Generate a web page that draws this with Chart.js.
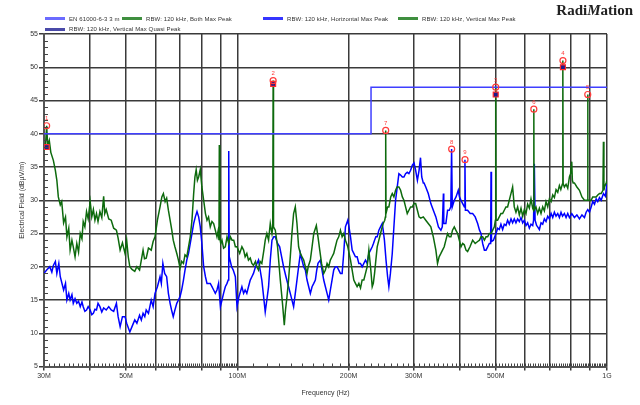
<!DOCTYPE html>
<html lang="en">
<head>
    <title>Radiated Emission Scan</title>
    <script src="https://cdn.jsdelivr.net/npm/chart.js"></script>
    <style>
        body {
            margin: 0;
            background-color: white;
            font-family: Arial, "Liberation Sans", sans-serif;
        }

        #wrap {
            position: relative;
            width: 640px;
            height: 405px;
        }

        #brand {
            position: absolute;
            right: 7px;
            top: 2px;
            font-family: "Liberation Serif", "DejaVu Serif", serif;
            font-size: 15px;
            font-weight: bold;
            color: #222;
        }

        #legend {
            position: absolute;
            left: 45px;
            top: 13px;
            width: 560px;
            font-size: 6px;
            letter-spacing: 0.1px;
            color: #333;
            line-height: 10px;
        }

        .item {
            display: inline-flex;
            align-items: center;
            white-space: nowrap;
        }

        .item:nth-child(1) { width: 77px; }
        .item:nth-child(2) { width: 141px; }
        .item:nth-child(3) { width: 135px; }

        .swatch {
            display: inline-block;
            width: 20px;
            height: 3px;
            margin-right: 4px;
        }
    </style>
</head>
<body>

    <div id="wrap">
        <canvas id="scanChart"></canvas>
        <div id="brand">Radi<i>M</i>ation</div>
        <div id="legend"></div>
    </div>

    <script>
        // tick labels of the frequency axis (MHz)
        const xTickValues = [30, 40, 50, 60, 70, 80, 90, 100, 200, 300, 400, 500, 600, 700, 800, 900, 1000];
        const xTickLabels = ['30M', '', '50M', '', '', '', '', '100M', '200M', '300M', '', '500M', '', '', '', '', '1G'];

        // EN 61000-6-3 3 m limit
        const limitFreq = [30, 230, 230, 1000];
        const limitLevel = [40, 40, 47, 47];

        // vertical max peak trace (MHz / dBuV/m)
        const vertFreq = [30.0, 30.3, 30.5, 30.7, 31.0, 31.3, 31.8, 32.2, 32.5, 32.8, 33.2, 33.5, 33.9, 34.3, 34.6, 35.0, 35.3, 35.7, 36.0, 36.4,
            36.8, 37.2, 37.6, 38.0, 38.3, 38.7, 39.1, 39.5, 40.0, 40.4, 40.8, 41.2, 41.6, 42.0, 42.5, 43.0, 43.5, 43.8, 44.2, 44.9,
            45.6, 46.3, 47.1, 47.6, 48.2, 48.9, 49.7, 50.2, 50.7, 51.2, 51.9, 52.8, 53.5, 54.4, 55.0, 55.6, 56.1, 56.7, 57.5, 58.5,
            59.2, 59.9, 60.8, 61.8, 62.5, 63.1, 63.8, 64.4, 65.1, 65.8, 66.5, 67.1, 67.8, 68.6, 69.3, 70.0, 70.7, 71.5, 72.2, 73.0,
            73.8, 74.6, 75.4, 76.2, 76.8, 77.4, 78.0, 78.6, 79.4, 80.2, 81.1, 82.0, 82.8, 83.6, 84.5, 85.4, 86.3, 87.2, 88.1, 88.8,
            89.2, 89.4, 89.6, 90.2, 90.9, 91.8, 92.8, 93.8, 94.8, 95.8, 96.8, 97.8, 98.8, 99.8, 101.5, 102.9, 104.0, 105.0, 106.1, 107.2,
            108.4, 109.5, 110.6, 112.0, 112.9, 114.1, 115.3, 116.5, 118.0, 119.0, 120.2, 121.5, 122.8, 124.1, 124.7, 125.0, 125.3, 126.7, 128.5, 130.7,
            132.5, 134.0, 135.0, 136.2, 137.6, 139.1, 140.5, 142.0, 143.5, 145.0, 146.5, 148.1, 149.6, 151.2, 152.8, 154.4, 155.5, 157.6, 159.3, 161.0,
            163.6, 165.3, 167.1, 169.0, 171.3, 173.1, 174.9, 176.7, 178.5, 180.4, 182.3, 184.2, 186.1, 188.1, 190.1, 192.1, 194.1, 196.1, 199.0, 202.4,
            204.5, 206.6, 208.7, 210.9, 213.2, 215.4, 217.6, 219.9, 222.2, 224.5, 226.9, 229.3, 231.7, 233.3, 235.1, 237.0, 239.0, 241.5, 244.0, 246.6,
            248.1, 250.5, 251.5, 252.0, 252.5, 255.0, 257.0, 260.0, 262.5, 265.2, 268.0, 270.5, 273.6, 276.5, 279.5, 282.3, 285.2, 288.2, 291.2, 294.3,
            297.5, 300.6, 303.7, 307.0, 310.2, 313.5, 318.5, 323.4, 328.5, 333.8, 339.0, 344.4, 348.0, 351.5, 355.4, 359.0, 362.8, 366.6, 370.5, 374.4,
            378.3, 382.0, 386.3, 390.0, 394.4, 398.5, 402.7, 407.0, 411.1, 415.5, 419.7, 426.0, 433.1, 440.0, 446.8, 452.0, 456.2, 461.0, 466.0, 470.7,
            475.6, 480.5, 485.6, 490.7, 495.8, 499.0, 500.0, 501.0, 505.9, 511.2, 516.5, 522.0, 527.4, 532.9, 538.4, 544.1, 549.8, 555.5, 558.5, 561.3,
            567.2, 573.2, 579.2, 585.3, 591.5, 597.5, 603.8, 610.0, 616.5, 622.9, 629.5, 633.0, 634.0, 635.0, 642.5, 649.3, 656.3, 663.0, 670.0, 677.0,
            684.0, 691.3, 698.5, 706.0, 713.2, 720.6, 728.0, 735.8, 743.4, 750.0, 757.0, 759.0, 760.0, 761.0, 766.9, 775.0, 783.1, 791.3, 797.0, 802.9,
            806.0, 810.0, 816.3, 829.0, 842.3, 855.5, 869.0, 880.0, 886.0, 887.0, 888.0, 896.6, 906.0, 915.0, 925.0, 934.7, 944.0, 954.3, 964.4, 975.0,
            978.0, 981.0, 984.6, 994.9, 1000];
        const vertLevel = [37.5, 38.5, 41.2, 38.2, 39.0, 37.2, 36.0, 34.5, 33.0, 30.5, 29.3, 29.8, 26.6, 27.5, 24.5, 25.8, 22.5, 24.0, 23.0, 21.5,
            23.5, 22.2, 25.0, 24.2, 26.8, 26.0, 28.3, 27.2, 29.8, 27.5, 28.6, 27.0, 28.0, 26.8, 28.3, 27.4, 30.6, 28.0, 28.6, 27.2,
            27.0, 25.8, 25.5, 24.3, 22.5, 23.6, 22.0, 24.0, 21.5, 20.0, 19.6, 19.3, 20.0, 19.5, 21.0, 22.5, 21.2, 21.3, 22.8, 22.5,
            23.8, 24.5, 27.0, 29.0, 30.5, 31.0, 29.8, 30.3, 28.5, 27.0, 25.5, 24.0, 23.0, 22.0, 21.0, 19.8, 20.8, 20.5, 21.8, 21.5,
            23.0, 24.5, 27.0, 31.0, 33.5, 34.6, 33.0, 33.5, 34.6, 32.0, 30.0, 28.0, 27.0, 27.5, 26.0, 26.8, 26.5, 25.5, 24.5, 25.5,
            24.0, 38.3, 24.5, 23.5, 24.0, 22.8, 23.0, 24.5, 23.5, 24.5, 24.0, 24.0, 23.0, 23.0, 22.0, 23.0, 22.5, 21.5, 22.0, 21.0,
            21.3, 20.5, 20.2, 20.8, 20.0, 19.5, 20.8, 20.5, 22.5, 24.0, 25.0, 24.0, 26.5, 25.0, 26.0, 48.0, 26.0, 25.5, 23.0, 18.0,
            14.5, 11.2, 13.5, 15.4, 18.0, 21.5, 25.0, 28.0, 29.0, 26.5, 23.0, 22.0, 21.5, 21.0, 20.0, 19.0, 20.0, 21.0, 23.0, 25.0,
            26.2, 24.5, 22.5, 20.5, 19.0, 19.5, 20.5, 20.0, 21.0, 21.5, 22.0, 23.0, 24.0, 24.5, 25.5, 24.5, 25.0, 24.0, 23.0, 21.0,
            19.5, 18.0, 17.5, 17.0, 17.5, 16.8, 18.0, 18.0, 19.0, 20.0, 22.5, 20.0, 17.0, 17.5, 19.0, 21.0, 23.0, 24.0, 25.0, 26.0,
            26.5, 27.0, 27.5, 40.5, 28.0, 29.0, 29.0, 30.5, 31.0, 30.5, 31.5, 32.0, 32.0, 31.5, 30.5, 30.0, 29.0, 28.0, 28.5, 29.0,
            29.0, 29.5, 29.5, 28.5, 27.5, 27.3, 27.5, 27.0, 26.5, 26.0, 24.5, 22.5, 20.5, 21.5, 22.0, 22.5, 23.0, 24.0, 25.0, 24.5,
            24.5, 25.5, 26.0, 25.5, 25.0, 24.0, 23.0, 23.5, 23.3, 22.5, 22.3, 23.0, 24.0, 23.5, 23.8, 24.0, 24.5, 24.5, 24.0, 24.5,
            24.5, 25.0, 25.0, 25.5, 26.0, 27.0, 47.0, 27.0, 27.0, 27.5, 28.0, 28.0, 28.5, 29.0, 29.0, 30.0, 31.0, 32.0, 30.5, 29.0,
            28.2, 29.0, 27.8, 28.8, 27.6, 28.6, 28.0, 29.4, 28.8, 30.2, 28.8, 28.5, 43.7, 28.5, 29.0, 28.0, 28.8, 28.0, 29.0, 28.4,
            29.8, 29.0, 30.2, 29.8, 30.8, 30.4, 31.6, 31.2, 32.2, 31.6, 32.4, 32.5, 51.0, 32.5, 32.0, 32.4, 31.8, 33.5, 34.0, 35.8,
            33.0, 32.6, 32.6, 32.0, 31.5, 30.5, 30.0, 30.0, 30.0, 45.9, 30.0, 30.0, 30.0, 30.5, 30.5, 30.5, 30.8, 31.0, 31.0, 31.5,
            38.8, 31.5, 32.0, 32.6, 33.0];

        // horizontal max peak trace (MHz / dBuV/m)
        const horizFreq = [30.0, 30.5, 31.1, 31.5, 31.8, 32.2, 32.5, 32.9, 33.2, 33.9, 34.3, 34.6, 35.0, 35.3, 35.7, 36.0, 36.4, 36.8, 37.2, 37.6,
            38.0, 38.3, 38.7, 39.1, 39.5, 40.0, 40.4, 40.8, 41.2, 41.6, 42.0, 42.5, 43.0, 43.5, 44.2, 44.9, 45.6, 46.3, 47.1, 47.6,
            48.2, 48.9, 49.7, 50.2, 51.2, 51.9, 52.8, 53.5, 54.4, 55.0, 55.6, 56.2, 56.7, 57.5, 58.5, 59.2, 59.9, 60.8, 61.8, 62.3,
            62.9, 63.6, 64.4, 65.1, 65.8, 66.4, 67.1, 67.8, 68.6, 69.3, 70.0, 70.7, 71.5, 72.2, 73.0, 73.8, 74.6, 75.4, 76.2, 77.0,
            77.8, 78.6, 79.4, 80.2, 81.1, 82.0, 82.8, 84.5, 85.4, 86.3, 87.2, 88.1, 89.0, 90.0, 90.9, 91.8, 92.8, 93.8, 94.5, 94.8,
            95.1, 96.5, 97.5, 98.8, 99.8, 101.0, 102.9, 104.0, 105.0, 106.1, 107.2, 108.4, 109.5, 110.6, 112.0, 114.1, 115.3, 116.5, 117.8, 119.0,
            120.2, 121.5, 122.8, 124.1, 125.5, 126.7, 128.5, 130.2, 131.8, 133.4, 135.4, 137.6, 139.8, 142.0, 143.5, 145.0, 146.5, 148.1, 149.6, 151.2,
            152.8, 154.4, 156.0, 157.6, 159.3, 161.0, 162.6, 164.0, 165.3, 167.8, 169.5, 171.3, 173.1, 174.9, 176.7, 178.5, 180.4, 182.3, 184.2, 186.1,
            188.1, 190.1, 192.1, 194.0, 196.1, 199.0, 200.5, 202.4, 204.5, 206.6, 208.7, 210.9, 213.2, 215.4, 217.6, 219.9, 222.2, 224.5, 226.9, 229.3,
            231.7, 233.5, 235.1, 237.0, 239.0, 241.5, 244.0, 246.6, 248.1, 250.0, 252.5, 255.0, 257.0, 259.5, 262.5, 265.2, 268.0, 270.8, 273.6, 276.5,
            279.5, 282.3, 285.2, 288.2, 291.2, 294.3, 297.5, 300.6, 303.7, 307.0, 310.2, 313.0, 315.4, 318.5, 320.0, 323.4, 328.5, 333.8, 339.0, 344.4,
            350.0, 355.4, 358.5, 361.0, 361.8, 366.6, 370.5, 374.4, 378.0, 379.9, 381.5, 386.3, 390.5, 396.0, 399.0, 402.7, 407.0, 411.5, 412.8, 414.0,
            419.7, 426.5, 433.1, 440.0, 446.8, 452.0, 456.2, 461.0, 466.0, 470.7, 475.6, 480.5, 484.5, 485.6, 487.0, 493.0, 497.0, 501.0, 506.0, 511.2,
            516.5, 522.0, 527.4, 533.0, 538.4, 544.1, 550.0, 555.5, 561.3, 567.2, 573.2, 579.2, 585.3, 591.5, 597.5, 603.8, 610.0, 616.5, 622.9, 629.5,
            633.0, 636.0, 639.0, 645.0, 649.3, 656.3, 663.0, 670.0, 677.0, 684.0, 691.3, 698.5, 706.0, 713.2, 720.6, 728.0, 735.8, 743.4, 751.0, 758.0,
            766.9, 775.0, 783.1, 791.3, 802.9, 816.3, 829.0, 842.3, 855.5, 869.0, 878.0, 887.2, 896.6, 906.0, 915.0, 925.0, 934.7, 944.0, 954.3, 964.4,
            978.0, 990.0, 1000];
        const horizLevel = [19.0, 19.5, 20.0, 19.2, 20.2, 20.8, 19.0, 20.5, 18.5, 16.5, 17.5, 15.0, 16.0, 15.0, 15.8, 14.5, 15.2, 14.5, 14.8, 14.0,
            14.7, 14.0, 13.3, 13.5, 14.0, 13.5, 12.8, 13.0, 13.6, 13.5, 14.5, 14.0, 13.2, 13.8, 13.5, 14.0, 13.5, 13.3, 14.5, 12.5,
            11.0, 12.5, 12.5, 11.5, 10.2, 11.0, 12.0, 11.5, 12.7, 12.0, 13.0, 12.5, 13.5, 13.0, 15.0, 14.0, 16.0, 17.0, 18.5, 17.5,
            20.5, 19.0, 18.5, 16.0, 14.5, 13.5, 12.5, 13.5, 14.5, 15.0, 15.5, 16.5, 18.0, 19.5, 21.0, 22.0, 23.5, 25.0, 26.5, 27.5,
            28.3, 27.5, 26.0, 23.5, 20.0, 18.5, 17.5, 17.5, 17.0, 16.5, 16.0, 16.5, 17.5, 14.0, 15.0, 16.0, 17.0, 17.5, 18.0, 37.4,
            21.5, 20.0, 19.5, 18.5, 14.0, 15.5, 17.0, 16.0, 16.5, 16.0, 17.0, 18.0, 18.5, 19.0, 20.0, 21.0, 19.5, 18.0, 15.5, 13.2,
            15.0, 17.0, 21.0, 24.0, 24.5, 24.5, 23.5, 23.0, 21.5, 20.0, 18.5, 17.0, 15.5, 14.0, 16.0, 18.0, 20.0, 22.0, 21.0, 20.0,
            19.5, 18.0, 17.0, 16.0, 17.0, 17.5, 18.0, 19.5, 20.5, 21.0, 19.5, 18.0, 17.0, 16.0, 15.0, 16.5, 18.0, 19.5, 20.0, 20.0,
            19.5, 19.0, 19.0, 22.0, 26.0, 27.0, 26.0, 24.5, 22.5, 22.0, 21.5, 21.5, 20.5, 20.5, 20.0, 20.5, 21.0, 20.5, 22.0, 22.5,
            23.0, 23.5, 24.0, 24.5, 24.5, 25.5, 26.0, 26.5, 25.5, 24.0, 21.0, 18.5, 17.0, 19.0, 22.0, 26.0, 30.0, 32.0, 34.0, 33.8,
            33.5, 33.5, 34.0, 34.2, 34.0, 34.5, 35.3, 35.6, 34.5, 33.0, 34.5, 36.4, 33.5, 32.6, 32.6, 32.0, 31.0, 29.5, 28.5, 27.5,
            26.0, 25.5, 26.0, 31.0, 26.5, 26.5, 28.5, 28.5, 29.0, 37.7, 29.0, 30.0, 30.5, 31.5, 30.5, 30.0, 29.5, 29.0, 36.1, 28.5,
            28.5, 28.0, 28.0, 27.5, 26.5, 25.5, 25.0, 23.5, 22.5, 22.5, 23.0, 23.5, 23.5, 34.3, 23.8, 24.0, 24.5, 25.0, 25.8, 25.6,
            26.4, 25.6, 26.4, 26.2, 27.0, 26.4, 27.2, 26.6, 27.2, 26.6, 27.2, 26.8, 27.4, 26.6, 27.0, 26.2, 26.6, 25.8, 26.4, 26.2,
            27.0, 35.5, 27.0, 26.2, 26.0, 25.6, 26.6, 26.4, 27.2, 26.8, 27.6, 27.2, 28.0, 27.4, 28.2, 27.6, 28.0, 27.4, 28.2, 27.6,
            28.0, 27.4, 28.0, 27.4, 28.0, 27.4, 27.8, 27.2, 27.8, 27.4, 28.2, 28.6, 28.2, 29.0, 29.8, 29.4, 30.2, 29.8, 30.4, 30.0,
            31.0, 30.6, 32.5];

        // quasi peak results and numbered peak markers
        const qpFreq = [30.5, 125, 500, 760];
        const qpLevel = [38.0, 47.5, 45.9, 50.0];
        const markerFreq = [30.5, 125, 500, 760, 887, 634, 252, 380, 413];
        const markerLevel = [41.2, 48.0, 47.0, 51.0, 45.9, 43.7, 40.5, 37.7, 36.1];
        const markerNames = ['1', '2', '3', '4', '5', '6', '7', '8', '9'];

        function toPoints(xs, ys) {
            return xs.map((x, i) => ({ x: x, y: ys[i] }));
        }

        // minor ticks along the axes and the marker numbers
        const extras = {
            id: 'extras',
            afterDatasetsDraw(chart) {
                const ctx = chart.ctx;
                const area = chart.chartArea;
                const xs = chart.scales.x;
                const ys = chart.scales.y;
                ctx.save();
                ctx.strokeStyle = '#444';
                ctx.lineWidth = 1;
                ctx.beginPath();
                for (let v = 6; v < 55; v++) {
                    if (v % 5 === 0) continue;
                    const y = Math.round(ys.getPixelForValue(v)) + 0.5;
                    ctx.moveTo(area.left, y);
                    ctx.lineTo(area.left + 4, y);
                }
                for (let f = 31; f < 1000; f += (f < 100 ? 1 : 10)) {
                    const x = Math.round(xs.getPixelForValue(f)) + 0.5;
                    ctx.moveTo(x, area.bottom);
                    ctx.lineTo(x, area.bottom - 3);
                }
                ctx.stroke();

                const meta = chart.getDatasetMeta(chart.data.datasets.length - 1);
                ctx.fillStyle = '#ff3b3b';
                ctx.font = '6px Arial';
                ctx.textAlign = 'center';
                ctx.textBaseline = 'bottom';
                meta.data.forEach((pt, i) => {
                    ctx.fillText(markerNames[i], pt.x, pt.y - 4);
                });
                ctx.restore();
            }
        };

        const chart = new Chart(document.getElementById('scanChart').getContext('2d'), {
            type: 'line',
            data: {
                datasets: [
                    {
                        label: 'EN 61000-6-3 3 m',
                        data: toPoints(limitFreq, limitLevel),
                        borderColor: '#3f3fff',
                        borderWidth: 1.5,
                        pointRadius: 0,
                        order: 0
                    },
                    {
                        label: 'RBW: 120 kHz, Both Max Peak',
                        data: [],
                        borderColor: '#3a8f3a',
                        borderWidth: 1,
                        pointRadius: 0,
                        order: 3
                    },
                    {
                        label: 'RBW: 120 kHz, Horizontal Max Peak',
                        data: toPoints(horizFreq, horizLevel),
                        borderColor: '#0000ff',
                        borderWidth: 1.5,
                        pointRadius: 0,
                        order: 2
                    },
                    {
                        label: 'RBW: 120 kHz, Vertical Max Peak',
                        data: toPoints(vertFreq, vertLevel),
                        borderColor: '#0d6a0d',
                        borderWidth: 1.5,
                        pointRadius: 0,
                        order: 1
                    },
                    {
                        label: 'RBW: 120 kHz, Vertical Max Quasi Peak',
                        data: toPoints(qpFreq, qpLevel),
                        borderColor: '#ff2b2b',
                        backgroundColor: '#1c1c8c',
                        showLine: false,
                        pointStyle: 'rect',
                        pointRadius: 3.5,
                        pointBorderWidth: 1.2,
                        order: -1
                    },
                    {
                        label: 'markers',
                        data: toPoints(markerFreq, markerLevel),
                        borderColor: '#ff3b3b',
                        backgroundColor: 'rgba(0,0,0,0)',
                        showLine: false,
                        pointStyle: 'circle',
                        pointRadius: 3,
                        pointBorderWidth: 1.2,
                        order: -2
                    }
                ]
            },
            options: {
                responsive: true,
                maintainAspectRatio: false,
                animation: false,
                layout: { padding: { top: 34, right: 33, left: 0, bottom: 0 } },
                plugins: {
                    legend: { display: false },
                    tooltip: { enabled: false }
                },
                scales: {
                    x: {
                        type: 'logarithmic',
                        min: 30,
                        max: 1000,
                        afterBuildTicks: scale => {
                            scale.ticks = xTickValues.map(v => ({ value: v }));
                        },
                        afterFit: scale => { scale.height = 38.5; },
                        ticks: {
                            autoSkip: false,
                            maxRotation: 0,
                            minRotation: 0,
                            padding: 1,
                            color: '#333',
                            font: { size: 7, family: 'Arial' },
                            callback: (value, index) => xTickLabels[index]
                        },
                        grid: { color: '#3a3a3a', lineWidth: 1.5, tickLength: 4 },
                        border: { display: true, color: '#555', width: 2 },
                        title: {
                            display: true,
                            text: 'Frequency (Hz)',
                            color: '#333',
                            font: { size: 7, family: 'Arial' },
                            padding: { top: 0, bottom: 8 }
                        }
                    },
                    y: {
                        min: 5,
                        max: 55,
                        afterFit: scale => { scale.width = 44; },
                        ticks: {
                            stepSize: 5,
                            padding: 1,
                            color: '#333',
                            font: { size: 7, family: 'Arial' }
                        },
                        grid: { color: '#3a3a3a', lineWidth: 1.5, tickLength: 5 },
                        border: { display: true, color: '#555', width: 2 },
                        title: {
                            display: true,
                            text: 'Electrical Field (dBµV/m)',
                            color: '#333',
                            font: { size: 7, family: 'Arial' },
                            padding: { top: 18, bottom: 0 }
                        }
                    }
                }
            },
            plugins: [extras]
        });

        // legend rows built from the datasets
        const legendBox = document.getElementById('legend');
        const swatchColors = ['#6b6bff', '#3f8f3f', '#3535ff', '#3f8f3f', '#4a4aa8'];
        chart.data.datasets.slice(0, 5).forEach((ds, i) => {
            if (i === 4) legendBox.appendChild(document.createElement('br'));
            const item = document.createElement('span');
            item.className = 'item';
            const sw = document.createElement('span');
            sw.className = 'swatch';
            sw.style.backgroundColor = swatchColors[i];
            item.appendChild(sw);
            item.appendChild(document.createTextNode(ds.label));
            legendBox.appendChild(item);
        });
    </script>

</body>
</html>
